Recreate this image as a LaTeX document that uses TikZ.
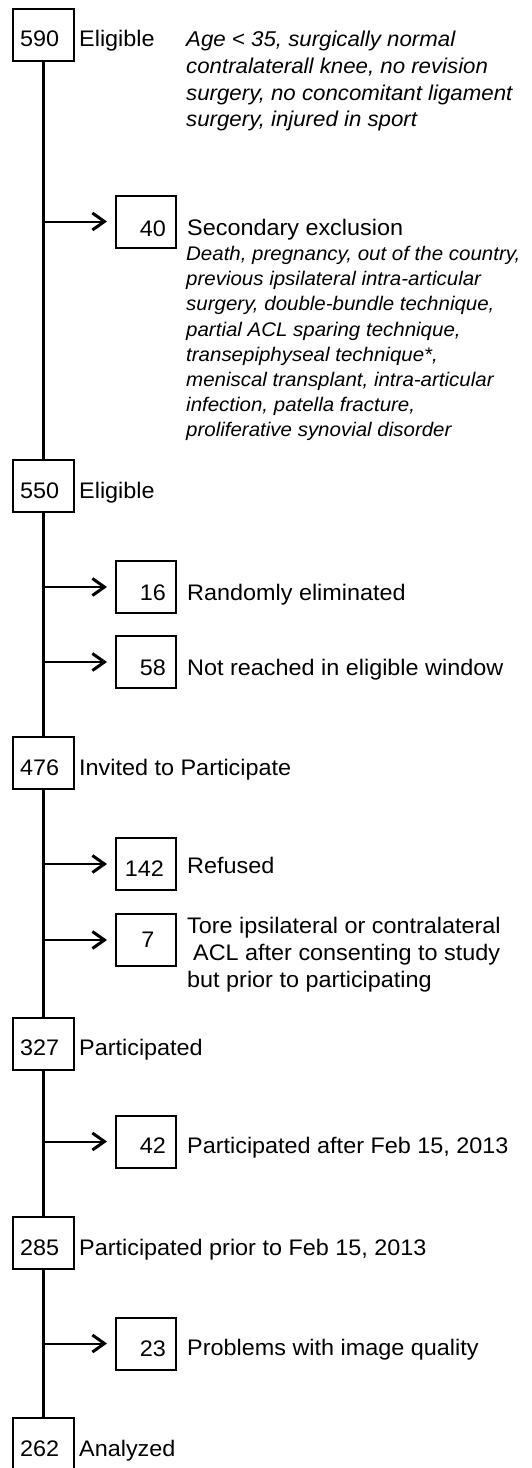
\documentclass[tikz,border=0pt]{standalone}
\usepackage{fontspec}
\setmainfont{Liberation Sans}[FakeStretch=1.04]
\usetikzlibrary{arrows.meta}
\newcommand{\fReg}{\fontsize{22.5}{27}\selectfont}
\newcommand{\fTop}{\fontsize{21.4}{26.7}\selectfont\itshape}
\newcommand{\fList}{\fontsize{19.7}{25.1}\selectfont\itshape}
\begin{document}
\begin{tikzpicture}[x=1pt,y=-1pt,
  mainbox/.style={draw,line width=2pt,minimum width=61pt,minimum height=52pt,inner sep=0pt},
  sidebox/.style={draw,line width=2pt,minimum width=60pt,minimum height=52pt,inner sep=0pt},
  trunk/.style={line width=2.6pt},
  branch/.style={line width=2pt,-{Straight Barb[length=12pt,width=17pt,line width=3pt]},shorten >=8pt},
  num/.style={inner sep=0pt,font=\fReg},
  lbl/.style={inner sep=0pt,anchor=base west,font=\fReg},
  note/.style={inner sep=0pt,anchor=base west,align=left}]
\useasboundingbox (0,0) rectangle (531,1468);
% main boxes
\node[mainbox] (m590) at (43.5,34.5) {};
\node[mainbox] (m550) at (43.5,486) {};
\node[mainbox] (m476) at (43.5,763) {};
\node[mainbox] (m327) at (43.5,1043.5) {};
\node[mainbox] (m285) at (43.5,1243) {};
\node[mainbox] (m262) at (43.5,1444) {};
% side boxes
\node[sidebox] (s40) at (146,221.5) {};
\node[sidebox] (s16) at (146,587) {};
\node[sidebox] (s58) at (146,662) {};
\node[sidebox] (s142) at (146,864) {};
\node[sidebox] (s7) at (146,940) {};
\node[sidebox] (s42) at (146,1141.5) {};
\node[sidebox] (s23) at (146,1343.5) {};
% main numbers and labels
\node[num,anchor=base west] (n590) at ([xshift=8pt,yshift=-12pt]m590.west) {590};
\node[num,anchor=base west] (n550) at ([xshift=8pt,yshift=-12pt]m550.west) {550};
\node[num,anchor=base west] (n476) at ([xshift=8pt,yshift=-12pt]m476.west) {476};
\node[num,anchor=base west] (n327) at ([xshift=8pt,yshift=-12pt]m327.west) {327};
\node[num,anchor=base west] (n285) at ([xshift=8pt,yshift=-12pt]m285.west) {285};
\node[num,anchor=base west] (n262) at ([xshift=8pt,yshift=-12pt]m262.west) {262};
\node[lbl] (l590) at ([xshift=4pt,yshift=-12pt]m590.east) {Eligible};
\node[lbl] (l550) at ([xshift=4pt,yshift=-12pt]m550.east) {Eligible};
\node[lbl] (l476) at ([xshift=4pt,yshift=-12pt]m476.east) {Invited to Participate};
\node[lbl] (l327) at ([xshift=4pt,yshift=-12pt]m327.east) {Participated};
\node[lbl] (l285) at ([xshift=4pt,yshift=-12pt]m285.east) {Participated prior to Feb 15, 2013};
\node[lbl] (l262) at ([xshift=4pt,yshift=-12pt]m262.east) {Analyzed};
% side numbers
\node[num,anchor=base east] (n40) at ([xshift=-11pt,yshift=-15pt]s40.east) {40};
\node[num,anchor=base east] (n16) at ([xshift=-11pt,yshift=-13pt]s16.east) {16};
\node[num,anchor=base east] (n58) at ([xshift=-11pt,yshift=-13pt]s58.east) {58};
\node[num,anchor=base east] (n142) at ([xshift=-13pt,yshift=-12.7pt]s142.east) {142};
\node[num,anchor=base] (n7) at ([xshift=2pt,yshift=-7.5pt]s7.center) {7};
\node[num,anchor=base east] (n42) at ([xshift=-11pt,yshift=-11.5pt]s42.east) {42};
\node[num,anchor=base east] (n23) at ([xshift=-11pt,yshift=-12.5pt]s23.east) {23};
% side labels
\node[lbl] (l40) at ([xshift=10pt,yshift=-13.5pt]s40.east) {Secondary exclusion};
\node[lbl] (l16) at ([xshift=10pt,yshift=-13pt]s16.east) {Randomly eliminated};
\node[lbl] (l58) at ([xshift=10pt,yshift=-13pt]s58.east) {Not reached in eligible window};
\node[lbl] (l142) at ([xshift=10pt,yshift=-9.3pt]s142.east) {Refused};
\node[lbl] (l42) at ([xshift=10pt,yshift=-11.5pt]s42.east) {Participated after Feb 15, 2013};
\node[lbl] (l23) at ([xshift=10pt,yshift=-11.5pt]s23.east) {Problems with image quality};
\node[note,font=\fReg] (l7) at ([xshift=10pt,yshift=-47pt]s7.east) {Tore ipsilateral or contralateral\\\hspace*{6pt}ACL after consenting to study\\but prior to participating};
% notes (base anchor = last line's baseline)
\node[note,font=\fTop] (crit) at (186,126.8) {Age < 35, surgically normal\\contralaterall knee, no revision\\surgery, no concomitant ligament\\surgery, injured in sport};
\node[note,font=\fList] (x40) at (186,436.4) {Death, pregnancy, out of the country,\\previous ipsilateral intra-articular\\surgery, double-bundle technique,\\partial ACL sparing technique,\\transepiphyseal technique*,\\meniscal transplant, intra-articular\\infection, patella fracture,\\proliferative synovial disorder};
% trunk
\draw[trunk] (m590.south) -- (m550.north);
\draw[trunk] (m550.south) -- (m476.north);
\draw[trunk] (m476.south) -- (m327.north);
\draw[trunk] (m327.south) -- (m285.north);
\draw[trunk] (m285.south) -- (m262.north);
% branches
\draw[branch] ([xshift=-2pt]m590.south |- s40.west) -- (s40.west);
\draw[branch] ([xshift=-2pt]m550.south |- s16.west) -- (s16.west);
\draw[branch] ([xshift=-2pt]m550.south |- s58.west) -- (s58.west);
\draw[branch] ([xshift=-2pt]m476.south |- s142.west) -- (s142.west);
\draw[branch] ([xshift=-2pt]m476.south |- s7.west) -- (s7.west);
\draw[branch] ([xshift=-2pt]m327.south |- s42.west) -- (s42.west);
\draw[branch] ([xshift=-2pt]m285.south |- s23.west) -- (s23.west);
\end{tikzpicture}
\end{document}
